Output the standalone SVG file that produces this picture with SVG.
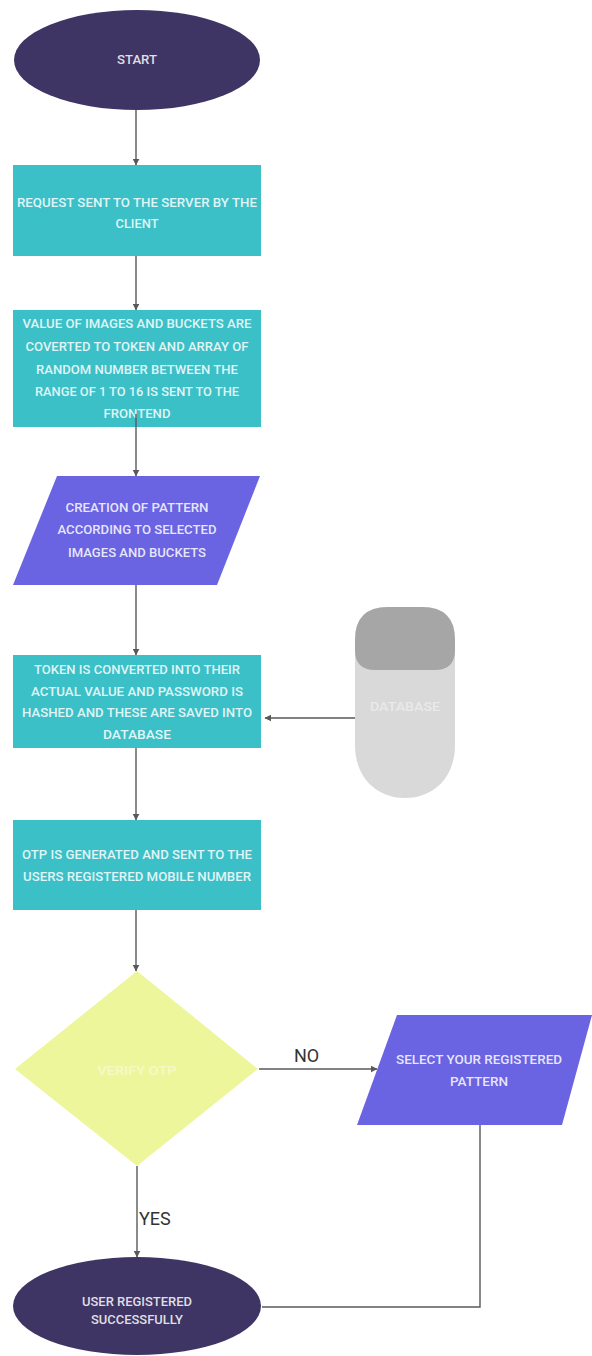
<svg xmlns="http://www.w3.org/2000/svg" width="592" height="1356" viewBox="0 0 592 1356">
<style>
.term{fill:#3e3565}
.proc{fill:#3cc0c8}
.io{fill:#6a64e2}
.dec{fill:#eef69b}
.t{font-family:Roboto,"Liberation Sans",sans-serif;font-weight:500;font-size:12px;fill:#ffffff;fill-opacity:0.85;text-anchor:middle}
.tf{fill-opacity:0.45}
.lbl{font-family:Roboto,"Liberation Sans",sans-serif;font-size:18px;fill:#333333}
.c{stroke:#595959;stroke-width:1.4;fill:none}
</style>
<defs>
<marker id="ah" viewBox="0 0 6 6" refX="5.5" refY="3" markerWidth="5" markerHeight="5" orient="auto">
<path d="M0,0 L6,3 L0,6 z" fill="#595959"/>
</marker>
</defs>
<rect width="592" height="1356" fill="#ffffff"/>

<g id="start">
<ellipse class="term" cx="137" cy="60" rx="123" ry="50"/>
<text class="t" x="137" y="64" textLength="40" lengthAdjust="spacingAndGlyphs">START</text>
</g>

<g id="request">
<rect class="proc" x="13" y="165" width="248" height="91"/>
<text class="t" x="137" y="207" textLength="240" lengthAdjust="spacingAndGlyphs">REQUEST SENT TO THE SERVER BY THE</text>
<text class="t" x="137" y="228" textLength="43" lengthAdjust="spacingAndGlyphs">CLIENT</text>
</g>

<g id="tokens">
<rect class="proc" x="13" y="310" width="248" height="117"/>
<text class="t" x="137" y="328" textLength="229" lengthAdjust="spacingAndGlyphs">VALUE OF IMAGES AND BUCKETS ARE</text>
<text class="t" x="137" y="351" textLength="223" lengthAdjust="spacingAndGlyphs">COVERTED TO TOKEN AND ARRAY OF</text>
<text class="t" x="137" y="374" textLength="202" lengthAdjust="spacingAndGlyphs">RANDOM NUMBER BETWEEN THE</text>
<text class="t" x="137" y="396" textLength="204" lengthAdjust="spacingAndGlyphs">RANGE OF 1 TO 16 IS SENT TO THE</text>
<text class="t" x="137" y="418" textLength="67" lengthAdjust="spacingAndGlyphs">FRONTEND</text>
</g>

<g id="pattern">
<polygon class="io" points="57,476 260,476 217,585 13,585"/>
<text class="t" x="137" y="512" textLength="143" lengthAdjust="spacingAndGlyphs">CREATION OF PATTERN</text>
<text class="t" x="137" y="534" textLength="159" lengthAdjust="spacingAndGlyphs">ACCORDING TO SELECTED</text>
<text class="t" x="137" y="557" textLength="138" lengthAdjust="spacingAndGlyphs">IMAGES AND BUCKETS</text>
</g>

<g id="save">
<rect class="proc" x="13" y="655" width="248" height="93"/>
<text class="t" x="137" y="674" textLength="206" lengthAdjust="spacingAndGlyphs">TOKEN IS CONVERTED INTO THEIR</text>
<text class="t" x="137" y="696" textLength="212" lengthAdjust="spacingAndGlyphs">ACTUAL VALUE AND PASSWORD IS</text>
<text class="t" x="137" y="717" textLength="230" lengthAdjust="spacingAndGlyphs">HASHED AND THESE ARE SAVED INTO</text>
<text class="t" x="137" y="739" textLength="68" lengthAdjust="spacingAndGlyphs">DATABASE</text>
</g>

<g id="database">
<path d="M355,640 Q355,607 388,607 L422,607 Q455,607 455,640 L455,745 C455,778 433,798 405,798 C377,798 355,778 355,745 Z" fill="#d9d9d9"/>
<path d="M355,640 Q355,607 388,607 L422,607 Q455,607 455,640 L455,650 Q455,670 435,670 L375,670 Q355,670 355,650 Z" fill="#a6a6a6"/>
<text class="t tf" x="405" y="711" textLength="70" lengthAdjust="spacingAndGlyphs">DATABASE</text>
</g>

<g id="otp">
<rect class="proc" x="13" y="820" width="248" height="90"/>
<text class="t" x="137" y="859" textLength="230" lengthAdjust="spacingAndGlyphs">OTP IS GENERATED AND SENT TO THE</text>
<text class="t" x="137" y="881" textLength="228" lengthAdjust="spacingAndGlyphs">USERS REGISTERED MOBILE NUMBER</text>
</g>

<g id="verify">
<polygon class="dec" points="137,971 258,1069 137,1166 15,1069"/>
<text class="t tf" x="137" y="1075" textLength="79" lengthAdjust="spacingAndGlyphs">VERIFY OTP</text>
</g>

<g id="select">
<polygon class="io" points="397,1015 592,1015 562,1125 357,1125"/>
<text class="t" x="479" y="1064" textLength="166" lengthAdjust="spacingAndGlyphs">SELECT YOUR REGISTERED</text>
<text class="t" x="479" y="1086" textLength="58" lengthAdjust="spacingAndGlyphs">PATTERN</text>
</g>

<g id="end">
<ellipse class="term" cx="137" cy="1306" rx="124" ry="49"/>
<text class="t" x="137" y="1306" textLength="110" lengthAdjust="spacingAndGlyphs">USER REGISTERED</text>
<text class="t" x="137" y="1324" textLength="92" lengthAdjust="spacingAndGlyphs">SUCCESSFULLY</text>
</g>

<g id="connectors">
<line class="c" x1="136" y1="110" x2="136" y2="165" marker-end="url(#ah)"/>
<line class="c" x1="136" y1="256" x2="136" y2="310" marker-end="url(#ah)"/>
<line class="c" x1="136" y1="414" x2="136" y2="476" marker-end="url(#ah)"/>
<line class="c" x1="136" y1="585" x2="136" y2="655" marker-end="url(#ah)"/>
<line class="c" x1="355" y1="718" x2="265" y2="718" marker-end="url(#ah)"/>
<line class="c" x1="136" y1="748" x2="136" y2="820" marker-end="url(#ah)"/>
<line class="c" x1="136" y1="910" x2="136" y2="971" marker-end="url(#ah)"/>
<line class="c" x1="259" y1="1069" x2="377" y2="1069" marker-end="url(#ah)"/>
<line class="c" x1="137" y1="1166" x2="137" y2="1257" marker-end="url(#ah)"/>
<polyline class="c" points="480,1125 480,1307 262,1307"/>
<text class="lbl" x="294" y="1062">NO</text>
<text class="lbl" x="139" y="1225">YES</text>
</g>
</svg>
